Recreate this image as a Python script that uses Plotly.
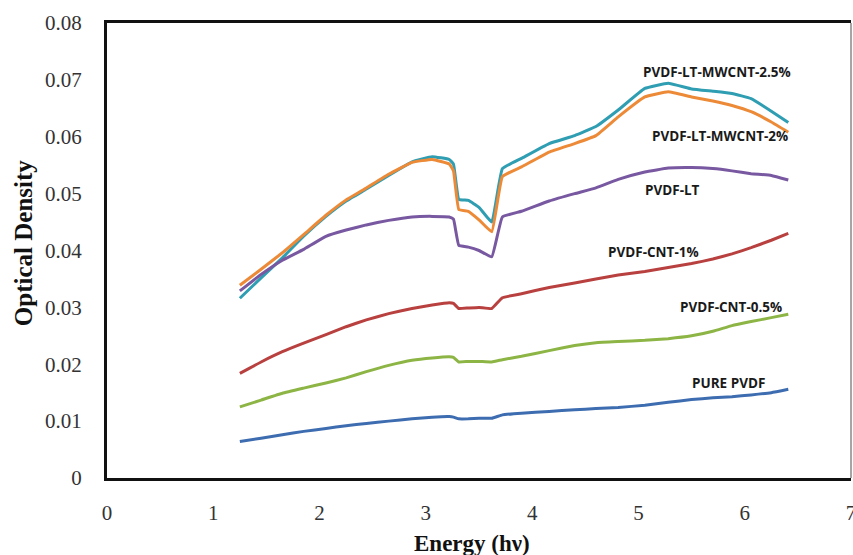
import plotly.graph_objects as go

# Photon energy grid (eV)
energy = [1.25, 1.45, 1.65, 1.85, 2.06, 2.25, 2.44, 2.65, 2.87, 3.06,
          3.22, 3.26, 3.31, 3.40, 3.50, 3.62, 3.72, 3.90, 4.16, 4.40,
          4.60, 4.81, 5.06, 5.28, 5.50, 5.70, 5.88, 6.06, 6.25, 6.41]

# Optical density for each film
od_mwcnt_25 = [0.0316, 0.0352, 0.0387, 0.0425, 0.0460, 0.0487, 0.0508, 0.0532, 0.0556, 0.0565,
               0.0560, 0.0552, 0.0490, 0.0488, 0.0476, 0.0450, 0.0544, 0.0562, 0.0588, 0.0602,
               0.0618, 0.0647, 0.0685, 0.0694, 0.0684, 0.0680, 0.0676, 0.0667, 0.0645, 0.0625]
od_mwcnt_2 = [0.0339, 0.0367, 0.0396, 0.0428, 0.0462, 0.0489, 0.0510, 0.0534, 0.0555, 0.0560,
              0.0552, 0.0540, 0.0472, 0.0469, 0.0454, 0.0433, 0.0530, 0.0547, 0.0573, 0.0588,
              0.0602, 0.0635, 0.0670, 0.0679, 0.0670, 0.0663, 0.0655, 0.0644, 0.0626, 0.0608]
od_lt = [0.0329, 0.0358, 0.0383, 0.0402, 0.0425, 0.0436, 0.0445, 0.0453, 0.0459, 0.0460,
         0.0459, 0.0455, 0.0409, 0.0406, 0.0400, 0.0389, 0.0459, 0.0469, 0.0487, 0.0500,
         0.0510, 0.0525, 0.0538, 0.0545, 0.0546, 0.0544, 0.0540, 0.0535, 0.0532, 0.0524]
od_cnt_1 = [0.0184, 0.0204, 0.0222, 0.0237, 0.0252, 0.0266, 0.0278, 0.0289, 0.0298, 0.0304,
            0.0308, 0.0307, 0.0298, 0.0299, 0.0300, 0.0298, 0.0317, 0.0324, 0.0335, 0.0343,
            0.0350, 0.0357, 0.0363, 0.0370, 0.0377, 0.0385, 0.0394, 0.0405, 0.0418, 0.0430]
od_cnt_05 = [0.0125, 0.0137, 0.0149, 0.0158, 0.0167, 0.0176, 0.0187, 0.0198, 0.0207, 0.0211,
             0.0213, 0.0212, 0.0204, 0.0205, 0.0205, 0.0204, 0.0208, 0.0214, 0.0224, 0.0233,
             0.0238, 0.0240, 0.0242, 0.0245, 0.0250, 0.0258, 0.0268, 0.0275, 0.0282, 0.0288]
od_pure = [0.0064, 0.0070, 0.0076, 0.0082, 0.0087, 0.0092, 0.0096, 0.0100, 0.0104, 0.0107,
           0.0108, 0.0107, 0.0104, 0.0104, 0.0105, 0.0105, 0.0111, 0.0114, 0.0117, 0.0120,
           0.0122, 0.0124, 0.0128, 0.0133, 0.0138, 0.0141, 0.0143, 0.0146, 0.0150, 0.0156]

series_names = ["PVDF-LT-MWCNT-2.5%", "PVDF-LT-MWCNT-2%", "PVDF-LT",
                "PVDF-CNT-1%", "PVDF-CNT-0.5%", "PURE PVDF"]
series_values = [od_mwcnt_25, od_mwcnt_2, od_lt, od_cnt_1, od_cnt_05, od_pure]
series_colors = ["#2F9DB2", "#EC8A37", "#7858A0", "#B8403F", "#8DB545", "#3D6DB0"]

# In-plot label anchors (energy, optical density)
label_x = [5.74, 5.77, 5.32, 5.14, 5.87, 5.85]
label_y = [0.0714, 0.0601, 0.0506, 0.0397, 0.0301, 0.0167]

x_ticks = [0, 1, 2, 3, 4, 5, 6, 7]
y_ticks = [0, 0.01, 0.02, 0.03, 0.04, 0.05, 0.06, 0.07, 0.08]
y_tick_text = ["0", "0.01", "0.02", "0.03", "0.04", "0.05", "0.06", "0.07", "0.08"]

fig = go.Figure()
for name, vals, col in zip(series_names, series_values, series_colors):
    fig.add_trace(go.Scatter(x=energy, y=vals, mode="lines", name=name,
                             line=dict(color=col, width=3, shape="spline", smoothing=0.3)))

for name, lx, ly in zip(series_names, label_x, label_y):
    fig.add_annotation(x=lx, y=ly, text="<b>" + name + "</b>", showarrow=False,
                       font=dict(family="Open Sans", size=13.5, color="#1a1a1a"),
                       xanchor="center", yanchor="middle")

serif = "Liberation Serif"
fig.add_annotation(xref="paper", yref="paper", x=-0.113, y=0.516,
                   text="<b>Optical Density</b>", textangle=-90, showarrow=False,
                   font=dict(family=serif, size=25, color="#111111"),
                   xanchor="center", yanchor="middle")
fig.add_annotation(xref="paper", yref="paper", x=0.49, y=-0.143,
                   text="<b>Energy (hν)</b>", showarrow=False,
                   font=dict(family=serif, size=23, color="#111111"),
                   xanchor="center", yanchor="middle")

# thin right border of the plot frame
fig.add_shape(type="line", xref="paper", yref="paper", x0=1, x1=1, y0=0, y1=1,
              line=dict(color="#888888", width=1.5))

fig.update_layout(
    width=853, height=555,
    margin=dict(l=107, r=2, t=23, b=77),
    paper_bgcolor="white", plot_bgcolor="white",
    showlegend=False,
    xaxis=dict(range=[0, 7], tickvals=x_ticks, showgrid=False, zeroline=False,
               showline=True, linecolor="#111111", linewidth=3, mirror=True,
               ticks="", ticklabelstandoff=14, ticklabeloverflow="allow",
               automargin=False,
               tickfont=dict(family=serif, size=21, color="#333333")),
    yaxis=dict(range=[0, 0.08], tickvals=y_ticks, ticktext=y_tick_text,
               showgrid=False, zeroline=False, automargin=False,
               showline=True, linecolor="#111111", linewidth=3,
               ticks="", ticklabelstandoff=18,
               tickfont=dict(family=serif, size=21, color="#333333")),
)

fig.write_html("out.html")
